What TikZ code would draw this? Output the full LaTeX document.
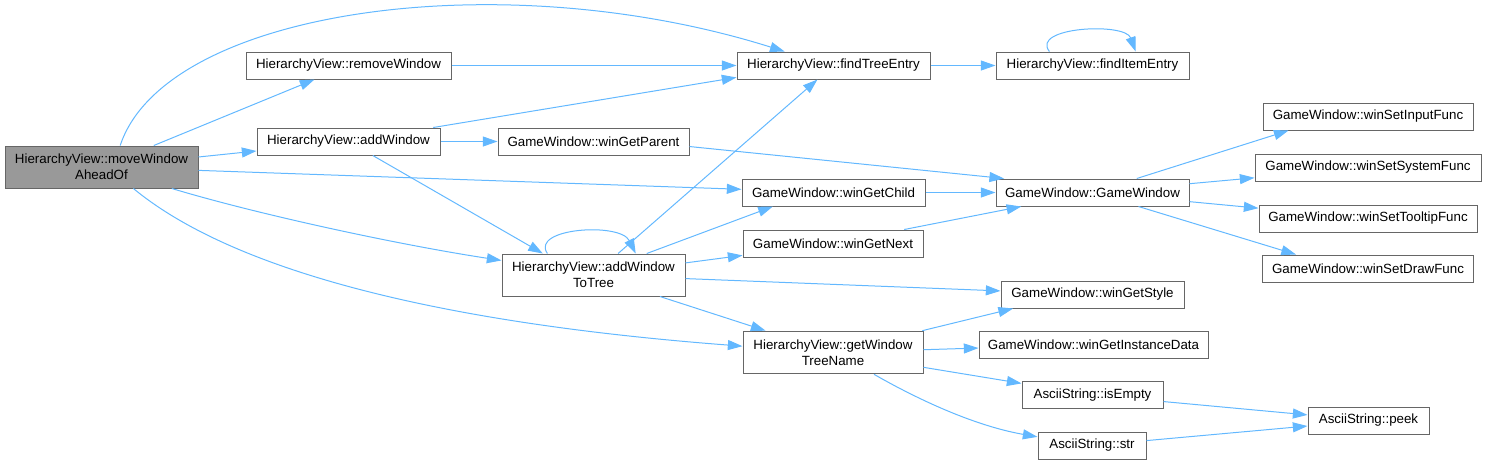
\documentclass[tikz,border=0pt]{standalone}
\usepackage{fontspec}
\setmainfont{Liberation Sans}
\usepackage{xcolor}
\usepackage{tikz}
\usetikzlibrary{arrows.meta}
\definecolor{edgeblue}{HTML}{63B8FF}
\definecolor{boxline}{HTML}{666666}
\definecolor{curfill}{HTML}{999999}

\begin{document}
\begin{tikzpicture}[
  x=0.75pt,y=-0.75pt,
  font=\fontsize{10}{12}\selectfont,
  fn/.style={draw=boxline,fill=white,align=center,inner sep=1pt,
             minimum height=20.25pt,line width=0.75pt},
  fntwo/.style={fn,minimum height=31.5pt},
  cur/.style={fntwo,fill=curfill},
  arr/.style={-{Triangle[length=11pt,width=7.5pt]},edgeblue,line width=0.75pt}
]
\useasboundingbox (0,0) rectangle (1487,465);

% caller
\node[cur,minimum width=144.75pt] (mw) at (101.5,167) {HierarchyView::moveWindow\\AheadOf};

% hierarchy view
\node[fn,minimum width=153.75pt] (rw) at (348.5,65.5) {HierarchyView::removeWindow};
\node[fn,minimum width=137.25pt] (aw) at (348.5,141.5) {HierarchyView::addWindow};
\node[fn,minimum width=144.75pt] (fte) at (833.5,65.5) {HierarchyView::findTreeEntry};
\node[fn,minimum width=144.75pt] (fie) at (1092.5,65.5) {HierarchyView::findItemEntry};
\node[fntwo,minimum width=137.25pt] (awt) at (593.5,275) {HierarchyView::addWindow\\ToTree};
\node[fn,minimum width=135pt,minimum height=32pt] (gwtn) at (833,352.5) {HierarchyView::getWindow\\TreeName};

% game window
\node[fn,minimum width=143.25pt] (wgp) at (593.5,141.5) {GameWindow::winGetParent};
\node[fn,minimum width=137.25pt] (wgc) at (833.5,192.5) {GameWindow::winGetChild};
\node[fn,minimum width=135pt] (wgn) at (833,243.5) {GameWindow::winGetNext};
\node[fn,minimum width=144.75pt] (gw) at (1092.5,192.5) {GameWindow::GameWindow};
\node[fn,minimum width=157.5pt] (wsif) at (1368,116.5) {GameWindow::winSetInputFunc};
\node[fn,minimum width=169.5pt] (wssf) at (1368,167.5) {GameWindow::winSetSystemFunc};
\node[fn,minimum width=163.5pt] (wstf) at (1368,218.5) {GameWindow::winSetTooltipFunc};
\node[fn,minimum width=158.25pt] (wsdf) at (1368,268.5) {GameWindow::winSetDrawFunc};
\node[fn,minimum width=137.25pt] (wgs) at (1092.5,294.5) {GameWindow::winGetStyle};
\node[fn,minimum width=171.75pt] (wgid) at (1093.5,344.5) {GameWindow::winGetInstanceData};

% strings
\node[fn,minimum width=105.75pt] (ise) at (1092.5,395) {AsciiString::isEmpty};
\node[fn,minimum width=81pt] (str) at (1092,445.5) {AsciiString::str};
\node[fn,minimum width=90.75pt] (peek) at (1368.5,420.5) {AsciiString::peek};

% calls from moveWindowAheadOf
\draw[arr] (mw.49) .. controls (165,10) and (500,-38) .. (fte.164);
\draw[arr] (mw) -- (rw);
\draw[arr] (mw) -- (aw);
\draw[arr] (mw) -- (wgc);
\draw[arr] (mw.-17) .. controls (260,215) and (400,245) .. (awt.171);
\draw[arr] (mw.-34.5) .. controls (220,260) and (400,320) .. (gwtn.176);

% removeWindow, addWindow
\draw[arr] (rw) -- (fte);
\draw[arr] (aw) -- (fte.187);
\draw[arr] (aw) -- (wgp);
\draw[arr] (aw) -- (awt.157);

% addWindowToTree
\draw[arr] (awt.155) .. controls (530,228) and (620,222) .. (awt.27);
\draw[arr] (awt) -- (fte);
\draw[arr] (awt.22) -- (wgc.193);
\draw[arr] (awt) -- (wgn);
\draw[arr] (awt) -- (wgs);
\draw[arr] (awt) -- (gwtn);

% tree entry
\draw[arr] (fte) -- (fie);
\draw[arr] (fie.162) .. controls (1030,27) and (1125,22) .. (fie.18);

% GameWindow::GameWindow
\draw[arr] (wgp.-3) -- (gw.171);
\draw[arr] (wgc) -- (gw);
\draw[arr] (wgn) -- (gw);
\draw[arr] (gw) -- (wsif.190);
\draw[arr] (gw) -- (wssf);
\draw[arr] (gw) -- (wstf);
\draw[arr] (gw) -- (wsdf.169);

% getWindowTreeName
\draw[arr] (gwtn) -- (wgs.190);
\draw[arr] (gwtn) -- (wgid);
\draw[arr] (gwtn) -- (ise);
\draw[arr] (gwtn.-28) .. controls (910,395) and (970,425) .. (str.171);
\draw[arr] (ise) -- (peek);
\draw[arr] (str) -- (peek);
\end{tikzpicture}
\end{document}
